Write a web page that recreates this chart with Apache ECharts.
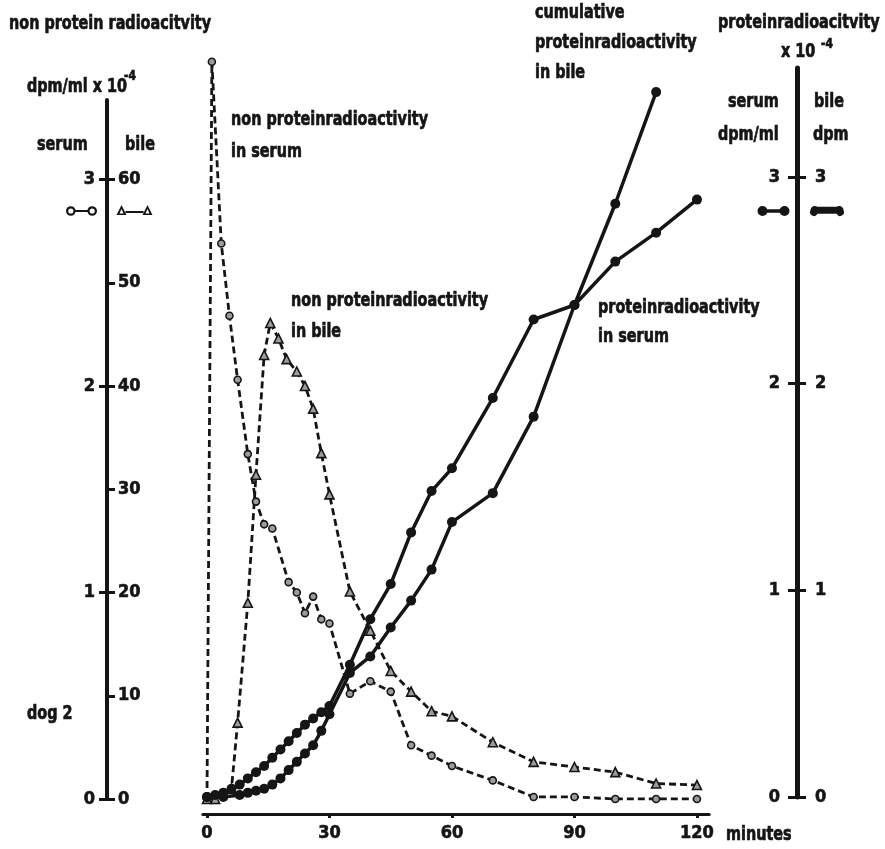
<!DOCTYPE html>
<html><head><meta charset="utf-8">
<script src="https://cdn.jsdelivr.net/npm/echarts@6/dist/echarts.min.js"></script>
<style>html,body{margin:0;padding:0;background:#fff}#c{width:885px;height:849px}</style>
</head><body><div id="c"></div>
<script>
const FONT = '"Liberation Sans Narrow","DejaVu Sans Condensed","Roboto Condensed",sans-serif';
const INK = '#151515';

// ---- data (minutes / x 10^-4) ----
const npSerumTime = [0, 1.2, 3.5, 5.5, 7.5, 10, 12, 14, 16, 20, 22, 24, 26, 28, 30, 35, 40, 45, 50, 55, 60, 70, 80, 90, 100, 110, 120];
const npSerumVal  = [0, 3.57, 2.69, 2.34, 2.03, 1.67, 1.44, 1.33, 1.31, 1.05, 1.00, 0.90, 0.98, 0.87, 0.85, 0.51, 0.57, 0.52, 0.26, 0.21, 0.16, 0.09, 0.01, 0.01, 0, 0, 0];

const npBileTime = [0, 2, 6, 7.5, 10, 12, 14, 15.5, 17.5, 19.5, 22, 24, 26, 28, 30, 35, 40, 45, 50, 55, 60, 70, 80, 90, 100, 110, 120];
const npBileVal  = [0, 0, 1.0, 7.4, 19.0, 31.4, 43.0, 46.1, 44.6, 42.6, 41.4, 40.0, 37.8, 33.5, 29.5, 20.1, 16.3, 12.4, 10.4, 8.5, 8.0, 5.5, 3.6, 3.1, 2.6, 1.5, 1.35];

const pSerumTime = [0, 2, 4, 6, 8, 10, 12, 14, 16, 18, 20, 22, 24, 26, 28, 30, 35, 40, 45, 50, 55, 60, 70, 80, 90, 100, 110, 120];
const pSerumVal  = [0, 0.01, 0.02, 0.04, 0.06, 0.09, 0.12, 0.15, 0.19, 0.23, 0.27, 0.31, 0.35, 0.38, 0.41, 0.44, 0.64, 0.86, 1.03, 1.28, 1.48, 1.59, 1.93, 2.31, 2.38, 2.59, 2.73, 2.89];

const pBileTime = [0, 4, 8, 10, 12, 14, 16, 18, 20, 22, 24, 26, 28, 30, 35, 40, 45, 50, 55, 60, 70, 80, 90, 100, 110];
const pBileVal  = [0, 0, 0.01, 0.02, 0.03, 0.04, 0.06, 0.09, 0.13, 0.17, 0.21, 0.25, 0.32, 0.40, 0.60, 0.68, 0.82, 0.95, 1.10, 1.33, 1.47, 1.84, 2.38, 2.87, 3.41];

const xTicks = [0, 30, 60, 90, 120];
const leftSerumTicks = [0, 1, 2, 3];
const leftBileTicks = [0, 10, 20, 30, 40, 50, 60];
const rightTicks = [0, 1, 2, 3];

function pairs(t, v) { return t.map((x, i) => [x, v[i]]); }

const ICON_HOLLOW_DUMBBELL = 'path://M0.5,5A4.5,4.5,0,1,1,9.5,5A4.5,4.5,0,1,1,0.5,5Z M2.6,5A2.4,2.4,0,1,0,7.4,5A2.4,2.4,0,1,0,2.6,5Z M9,4L21,4L21,6L9,6Z M20.5,5A4.5,4.5,0,1,1,29.5,5A4.5,4.5,0,1,1,20.5,5Z M22.6,5A2.4,2.4,0,1,0,27.4,5A2.4,2.4,0,1,0,22.6,5Z';
const ICON_HOLLOW_TRI = 'path://M0,10L5,0L10,10Z M3,8.5L7,8.5L5,4Z M9,6L27,6L27,8L9,8Z M26,10L31,0L36,10Z M29,8.5L33,8.5L31,4Z';
const ICON_FILLED_DUMBBELL = 'path://M0,5A5,5,0,1,1,10,5A5,5,0,1,1,0,5Z M8,3.3L24,3.3L24,6.7L8,6.7Z M22,5A5,5,0,1,1,32,5A5,5,0,1,1,22,5Z';
const ICON_FILLED_BONE = 'path://M0,6A5,5,0,0,1,8,2L30,2A5,5,0,0,1,38,6A4,4,0,0,1,30,10L8,10A4,4,0,0,1,0,6Z';

const lblStyle = { fontFamily: FONT, fontWeight: 'bold', fontSize: 18, color: INK, textBorderColor: INK, textBorderWidth: 0.6 };

function txt(text, x, y, size, sx) {
  return { type: 'text', x: x, y: y, scaleX: sx || 0.8, scaleY: 1, silent: true,
    style: { text: text, fill: INK, stroke: INK, lineWidth: 0.7, font: 'bold ' + (size || 20) + 'px ' + FONT, verticalAlign: 'middle', align: 'left' } };
}

function legendKey(name, icon, left, top, w, h) {
  return { left: left, top: top, padding: 0, itemWidth: w, itemHeight: h, itemGap: 0, selectedMode: false,
    data: [{ name: name, icon: icon, itemStyle: { color: INK, borderWidth: 0 } }],
    formatter: () => '', textStyle: { fontSize: 1 } };
}

const chart = echarts.init(document.getElementById('c'), null, { renderer: 'canvas' });
const option = {
  animation: false,
  backgroundColor: '#fff',
  grid: [
    { left: 202.9, right: 175.8, top: 58, bottom: 50, outerBoundsMode: 'none', containLabel: false },
    { left: 107, width: 0, top: 100, bottom: 50, outerBoundsMode: 'none', containLabel: false },
    { left: 797, width: 0, top: 68, bottom: 52, outerBoundsMode: 'none', containLabel: false }
  ],
  xAxis: [
    { gridIndex: 0, type: 'value', min: -1, max: 123, offset: 15,
      axisLine: { show: true, onZero: false, lineStyle: { color: INK, width: 3 } },
      axisTick: { show: true, customValues: xTicks, length: 4, lineStyle: { color: INK, width: 3 } },
      axisLabel: Object.assign({ customValues: xTicks, margin: 10 }, lblStyle),
      splitLine: { show: false } },
    { gridIndex: 1, type: 'value', show: false },
    { gridIndex: 2, type: 'value', show: false }
  ],
  yAxis: [
    { gridIndex: 0, type: 'value', min: 0, max: 3.588, show: false, position: 'left', splitLine: { show: false } },
    { gridIndex: 0, type: 'value', min: 0, max: 71.76, show: false, position: 'left', splitLine: { show: false } },
    { gridIndex: 0, type: 'value', min: -0.0097, max: 3.575, show: false, position: 'right', splitLine: { show: false } },
    // left display axis: serum (labels left) and bile (labels right)
    { gridIndex: 1, type: 'value', position: 'left', min: 0, max: 3.385,
      axisLine: { show: true, onZero: false, lineStyle: { color: INK, width: 4 } },
      axisTick: { show: true, customValues: leftSerumTicks, length: 8, lineStyle: { color: INK, width: 3 } },
      axisLabel: Object.assign({ customValues: leftSerumTicks, margin: 12 }, lblStyle),
      splitLine: { show: false } },
    { gridIndex: 1, type: 'value', position: 'right', min: 0, max: 67.7,
      axisLine: { show: false },
      axisTick: { show: true, customValues: leftBileTicks, length: 8, lineStyle: { color: INK, width: 3 } },
      axisLabel: Object.assign({ customValues: leftBileTicks, margin: 11 }, lblStyle),
      splitLine: { show: false } },
    // right display axis: serum (labels left) and bile (labels right)
    { gridIndex: 2, type: 'value', position: 'left', min: 0, max: 3.527,
      axisLine: { show: true, onZero: false, lineStyle: { color: INK, width: 5 } },
      axisTick: { show: true, customValues: rightTicks, length: 9, lineStyle: { color: INK, width: 3 } },
      axisLabel: Object.assign({ customValues: rightTicks, margin: 17 }, lblStyle),
      splitLine: { show: false } },
    { gridIndex: 2, type: 'value', position: 'right', min: 0, max: 3.527,
      axisLine: { show: false },
      axisTick: { show: true, customValues: rightTicks, length: 9, lineStyle: { color: INK, width: 3 } },
      axisLabel: Object.assign({ customValues: rightTicks, margin: 18 }, lblStyle),
      splitLine: { show: false } }
  ],
  legend: [
    legendKey('np serum', ICON_HOLLOW_DUMBBELL, 66, 206, 31, 10),
    legendKey('np bile', ICON_HOLLOW_TRI, 116, 205, 37, 10),
    legendKey('p serum', ICON_FILLED_DUMBBELL, 757, 206, 33, 10),
    legendKey('p bile', ICON_FILLED_BONE, 808, 206, 38, 10)
  ],
  series: [
    { name: 'np serum', type: 'line', xAxisIndex: 0, yAxisIndex: 0, data: pairs(npSerumTime, npSerumVal),
      symbol: 'circle', symbolSize: 7, z: 3,
      lineStyle: { color: INK, width: 2.8, type: [7, 4] },
      itemStyle: { color: '#9c9c9c', borderColor: INK, borderWidth: 1.6 } },
    { name: 'np bile', type: 'line', xAxisIndex: 0, yAxisIndex: 1, data: pairs(npBileTime, npBileVal),
      symbol: 'triangle', symbolSize: 9, z: 3,
      lineStyle: { color: INK, width: 2.8, type: [7, 4] },
      itemStyle: { color: '#9c9c9c', borderColor: INK, borderWidth: 1.6 } },
    { name: 'p serum', type: 'line', xAxisIndex: 0, yAxisIndex: 2, data: pairs(pSerumTime, pSerumVal),
      symbol: 'circle', symbolSize: 10, z: 4,
      lineStyle: { color: INK, width: 3.5 },
      itemStyle: { color: INK } },
    { name: 'p bile', type: 'line', xAxisIndex: 0, yAxisIndex: 2, data: pairs(pBileTime, pBileVal),
      symbol: 'circle', symbolSize: 10, z: 4,
      lineStyle: { color: INK, width: 3.5 },
      itemStyle: { color: INK } }
  ],
  graphic: [
    txt('non protein radioacitvity', 9, 24),
    txt('dpm/ml x 10', 27, 87),
    txt('-4', 124, 76, 14, 0.85),
    txt('serum', 37, 145),
    txt('bile', 125, 145),
    txt('dog 2', 27, 714),
    txt('proteinradioacitvity', 718, 23),
    txt('x 10', 781, 52),
    txt('-4', 821, 44, 14, 0.85),
    txt('serum', 728, 102),
    txt('bile', 814, 102),
    txt('dpm/ml', 718, 135),
    txt('dpm', 813, 135),
    txt('non proteinradioactivity', 231, 120),
    txt('in serum', 231, 152),
    txt('non proteinradioactivity', 291, 301),
    txt('in bile', 291, 332),
    txt('cumulative', 535, 13),
    txt('proteinradioactivity', 535, 43),
    txt('in bile', 535, 73),
    txt('proteinradioactivity', 598, 308),
    txt('in serum', 598, 337),
    txt('minutes', 726, 835)
  ]
};
chart.setOption(option);
</script>
</body></html>
